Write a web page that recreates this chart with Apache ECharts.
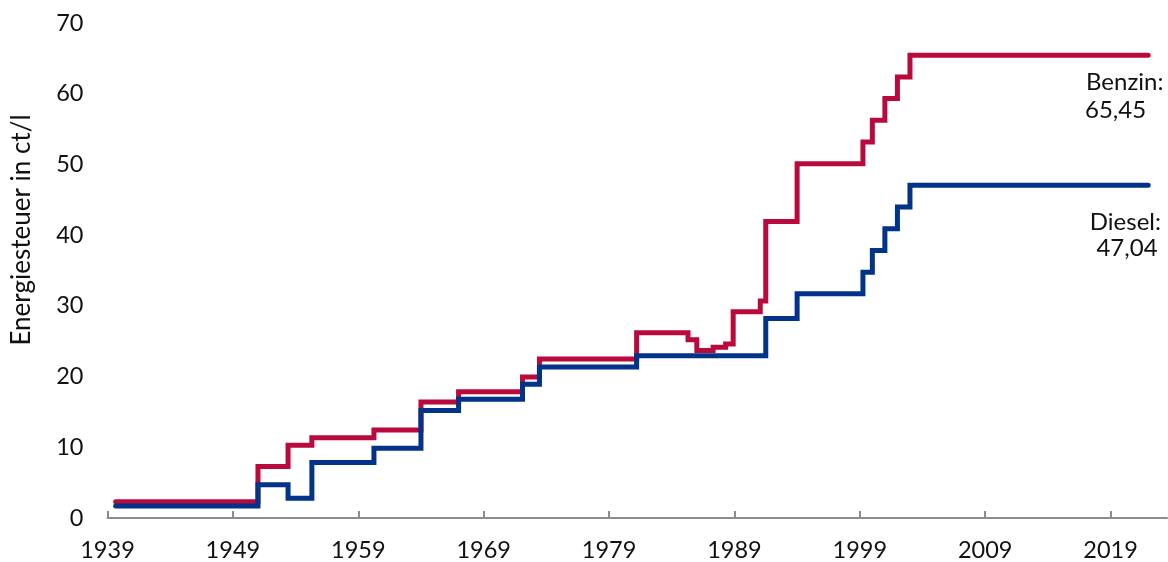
<!DOCTYPE html>
<html>
<head>
<meta charset="utf-8">
<script src="https://cdn.jsdelivr.net/npm/echarts@6/dist/echarts.min.js"></script>
<style>
html,body{margin:0;padding:0;background:#fff;}
#chart{width:1168px;height:562px;}
</style>
</head>
<body>
<div id="chart"></div>
<script>
// Benzin (petrol) tax steps: [year, ct/l]
const benzinYears = [1939.65, 1951.0, 1953.4, 1955.3, 1960.25, 1964.0, 1967.0, 1972.1, 1973.45, 1981.2, 1985.3, 1986.0, 1987.3, 1988.3, 1988.9, 1991.06, 1991.5, 1994.0, 1999.25, 2000.0, 2001.0, 2002.0, 2003.0, 2022.0];
const benzinValues = [2.3, 7.3, 10.3, 11.35, 12.45, 16.4, 17.85, 19.95, 22.5, 26.2, 25.2, 23.7, 24.15, 24.6, 29.15, 30.68, 41.93, 50.11, 53.17, 56.24, 59.31, 62.38, 65.45, 65.45];
// Diesel tax steps
const dieselYears = [1939.65, 1951.0, 1953.4, 1955.3, 1960.25, 1964.0, 1967.0, 1972.1, 1973.45, 1981.2, 1991.5, 1994.0, 1999.25, 2000.0, 2001.0, 2002.0, 2003.0, 2022.0];
const dieselValues = [1.7, 4.7, 2.8, 7.85, 9.85, 15.2, 16.8, 18.9, 21.35, 22.95, 28.2, 31.7, 34.77, 37.84, 40.91, 43.97, 47.04, 47.04];
const xTickValues = [1939, 1949, 1959, 1969, 1979, 1989, 1999, 2009, 2019];
const yAxisTitle = 'Energiesteuer in ct/l';
const benzinName = 'Benzin:';
const dieselName = 'Diesel:';

const fmt = v => v.toFixed(2).replace('.', ',');
const zip = (xs, ys) => xs.map((x, i) => [x, ys[i]]);

const chart = echarts.init(document.getElementById('chart'));
const FONT = 'Lato';
const TXT = '#111';
chart.setOption({
  animation: false,
  grid: {left: 107.5, right: 1, top: 23, bottom: 43, containLabel: false},
  xAxis: {
    type: 'value', min: 1939, max: 2023.5, interval: 10,
    splitLine: {show: false},
    axisLine: {show: true, lineStyle: {color: '#8c8c8c', width: 2}},
    axisTick: {show: true, inside: true, length: 7, customValues: xTickValues, lineStyle: {color: '#8c8c8c', width: 2}},
    axisLabel: {customValues: xTickValues, margin: 20, fontFamily: FONT, fontSize: 23.5, color: TXT, formatter: v => String(v)}
  },
  yAxis: {
    type: 'value', min: 0, max: 70, interval: 10,
    splitLine: {show: false},
    axisLine: {show: false},
    axisTick: {show: false},
    axisLabel: {margin: 24, fontFamily: FONT, fontSize: 23.5, color: TXT}
  },
  series: [
    {type: 'line', name: 'Benzin', step: 'end', showSymbol: false, data: zip(benzinYears, benzinValues),
     lineStyle: {color: '#B80A3D', width: 5, cap: 'round', join: 'miter'}, itemStyle: {color: '#B80A3D'}},
    {type: 'line', name: 'Diesel', step: 'end', showSymbol: false, data: zip(dieselYears, dieselValues),
     lineStyle: {color: '#013388', width: 5, cap: 'round', join: 'miter'}, itemStyle: {color: '#013388'}}
  ],
  graphic: [
    {type: 'text', x: 22, y: 230, rotation: Math.PI / 2,
     style: {text: yAxisTitle, fontFamily: FONT, fontSize: 26, fill: TXT, align: 'center', verticalAlign: 'middle'}},
    {type: 'text', x: 1086, y: 82, style: {text: benzinName, fontFamily: FONT, fontSize: 24, fill: TXT, align: 'left', verticalAlign: 'middle'}},
    {type: 'text', x: 1085, y: 110, style: {text: fmt(benzinValues[benzinValues.length - 1]), fontFamily: FONT, fontSize: 24, fill: TXT, align: 'left', verticalAlign: 'middle'}},
    {type: 'text', x: 1161, y: 222, style: {text: dieselName, fontFamily: FONT, fontSize: 24, fill: TXT, align: 'right', verticalAlign: 'middle'}},
    {type: 'text', x: 1127, y: 248, style: {text: fmt(dieselValues[dieselValues.length - 1]), fontFamily: FONT, fontSize: 24, fill: TXT, align: 'center', verticalAlign: 'middle'}}
  ]
});
</script>
</body>
</html>
